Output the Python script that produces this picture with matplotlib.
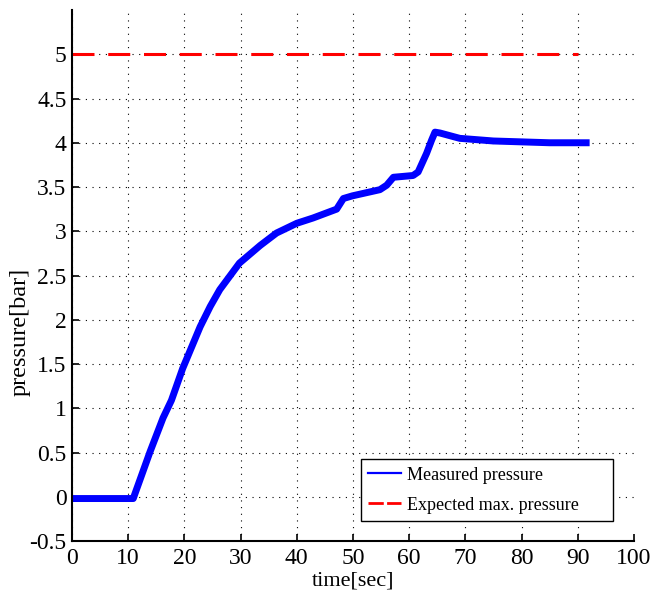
import matplotlib
matplotlib.use("Agg")
import matplotlib.pyplot as plt

plt.rcParams['font.family'] = ['Liberation Serif', 'DejaVu Serif']
plt.rcParams['axes.unicode_minus'] = False

# measured pressure
time_s = [0, 10.9, 13.9, 16.2, 17.7, 19.7, 22.8, 24.6, 26.3, 29.8, 33.5, 36.4,
          40, 42.9, 47.1, 48.3, 49.9, 54.8, 56, 57.2, 60.7, 61.6, 63.1, 64,
          64.6, 65.5, 69, 75, 80, 85, 91.5]
pressure_bar = [-0.02, -0.02, 0.51, 0.89, 1.09, 1.45, 1.92, 2.15, 2.34, 2.64, 2.84, 2.98,
                3.09, 3.15, 3.25, 3.37, 3.40, 3.47, 3.52, 3.61, 3.63, 3.67, 3.88, 4.03,
                4.12, 4.11, 4.05, 4.02, 4.01, 4.00, 4.00]

# expected maximum
limit_time = [0, 90]
limit_pressure = [5, 5]

x_ticks = list(range(0, 101, 10))
y_ticks = [-0.5, 0, 0.5, 1, 1.5, 2, 2.5, 3, 3.5, 4, 4.5, 5]
y_tick_labels = ['-0.5', '0', '0.5', '1', '1.5', '2', '2.5', '3', '3.5', '4', '4.5', '5']

fig = plt.figure(figsize=(6.58, 5.99), dpi=100)
ax = fig.add_axes([0.1094, 0.0968, 0.854, 0.8865])

ax.plot(time_s, pressure_bar, color='#0000ff', lw=5, label='Measured pressure',
        solid_joinstyle='round')
ax.plot(limit_time, limit_pressure, color='#ff0000', lw=2.2, dashes=(7.2, 4.5),
        label='Expected max. pressure')

ax.set_xlim(0, 100)
ax.set_ylim(-0.5, 5.5)
ax.set_xticks(x_ticks)
ax.set_yticks(y_ticks)
ax.set_xticklabels([str(v) for v in x_ticks])
ax.set_yticklabels(y_tick_labels)

ax.grid(True, color='black', lw=0.8, linestyle=(0, (1, 5)))
ax.xaxis.get_gridlines()[-1].set_visible(False)
ax.set_axisbelow(True)

for side in ['top', 'right']:
    ax.spines[side].set_visible(False)
for side in ['left', 'bottom']:
    ax.spines[side].set_linewidth(1.5)

ax.tick_params(direction='in', length=5, width=1.2, labelsize=17)
ax.tick_params(axis='x', pad=5)
ax.tick_params(axis='y', pad=4)

ax.set_xlabel('time[sec]', fontsize=16)
ax.set_ylabel('pressure[bar]', fontsize=17.5)
ax.xaxis.set_label_coords(0.5, -0.057)
ax.yaxis.set_label_coords(-0.073, 0.394)

leg = ax.legend(loc='lower left', bbox_to_anchor=(0.514, 0.038, 0.449, 0.13),
                mode='expand', fontsize=13, frameon=True, fancybox=False,
                edgecolor='black', framealpha=1, borderpad=0.4, labelspacing=0.72,
                handlelength=1.8, handletextpad=0.35, borderaxespad=0)
leg.get_frame().set_linewidth(1.0)
leg_lines = leg.get_lines()
leg_lines[0].set_linewidth(1.6)
leg_lines[1].set_linewidth(2.0)
leg_lines[1].set_dashes((5.5, 1.2))

fig.savefig('out.png', dpi=100)
